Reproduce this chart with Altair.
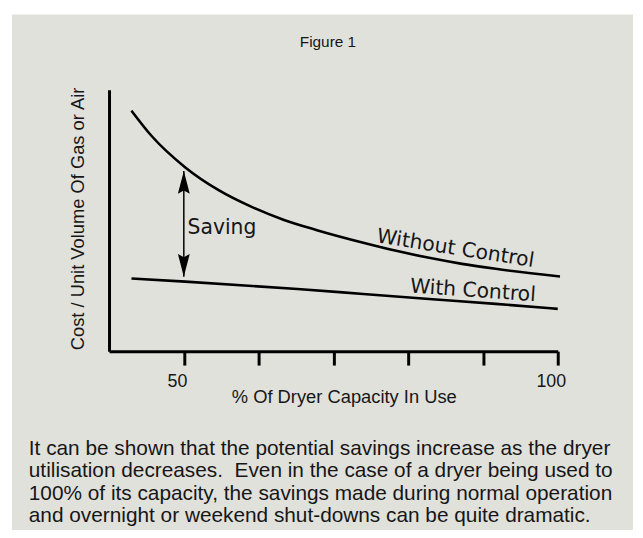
import altair as alt
import pandas as pd

# ---- data ----
without_x = [43.0, 45.7, 50.2, 54.6, 59.0, 63.4, 67.8, 74.0, 78.4, 82.8, 87.2, 91.7, 100.3]
without_y = [92.0, 82.3, 70.3, 61.7, 55.3, 50.2, 46.3, 41.5, 38.4, 35.7, 33.4, 31.5, 28.6]
with_x = [43.0, 50.2, 65.2, 74.0, 82.8, 91.7, 100.0]
with_y = [27.8, 26.6, 23.8, 21.9, 20.0, 18.1, 16.2]

x_domain = [40, 100]
y_domain = [0, 100]
tick_values = [50, 60, 70, 80, 90, 100]
labelled_ticks = [50, 100]

arrow_x = [50.0]
arrow_low = [28.5]
arrow_high = [68.9]

curve_labels = ["Without Control", "With Control"]
curve_label_x = [86.2, 88.6]
curve_label_y = [36.9, 20.8]
saving_label = ["Saving"]
saving_x = [50.5]
saving_y = [45.0]

fig_title = "Figure 1"
x_title = "% Of Dryer Capacity In Use"
y_title = "Cost / Unit Volume Of Gas or Air"
paragraph = [
    "It can be shown that the potential savings increase as the dryer",
    "utilisation decreases.\u00a0 Even in the case of a dryer being used to",
    "100% of its capacity, the savings made during normal operation",
    "and overnight or weekend shut-downs can be quite dramatic.",
]

# ---- tables ----
curves = pd.concat([
    pd.DataFrame({"x": without_x, "y": without_y, "series": "Without Control"}),
    pd.DataFrame({"x": with_x, "y": with_y, "series": "With Control"}),
])
shaft = pd.DataFrame({"x": arrow_x, "y": arrow_low, "y2": arrow_high})
head_top = pd.DataFrame({"x": arrow_x, "y": arrow_high})
head_bot = pd.DataFrame({"x": arrow_x, "y": arrow_low})
lab1 = pd.DataFrame({"x": curve_label_x[:1], "y": curve_label_y[:1], "label": curve_labels[:1]})
lab2 = pd.DataFrame({"x": curve_label_x[1:], "y": curve_label_y[1:], "label": curve_labels[1:]})
lab3 = pd.DataFrame({"x": saving_x, "y": saving_y, "label": saving_label})
one = pd.DataFrame({"k": [0]})

INK = "#161616"
SANS = "Liberation Sans"
GEO = "DejaVu Sans"

label_expr = "indexof([" + ",".join(str(v) for v in labelled_ticks) + "], datum.value) >= 0 ? datum.label : ''"

xs = alt.Scale(domain=x_domain, nice=False, zero=False)
ys = alt.Scale(domain=y_domain, nice=False, zero=False)

x_axis = alt.Axis(
    values=tick_values, labelExpr=label_expr, grid=False, zindex=1,
    domainColor="black", domainWidth=3, tickColor="black", tickWidth=3, tickSize=14,
    labelFont=SANS, labelFontSize=18, labelColor=INK, labelPadding=8, labelOffset=-7,
    labelFlush=False, labelOverlap=False,
    title=x_title, titleFont=SANS, titleFontSize=18.5, titleFontWeight="normal", titleColor=INK,
    titleX=237, titleY=52, titleAlign="center", titleBaseline="alphabetic",
)
y_axis = alt.Axis(
    ticks=False, labels=False, grid=False, zindex=1,
    domainColor="black", domainWidth=3,
    title=y_title, titleFont=SANS, titleFontSize=18.5, titleFontWeight="normal", titleColor=INK,
    titleAngle=270, titleX=-25.3, titleY=130, titleAlign="center", titleBaseline="alphabetic",
)

bg = alt.Chart(one).mark_rect(color="#e1e1dc").encode(
    x=alt.value(-98), x2=alt.value(529), y=alt.value(-76), y2=alt.value(450)
)

lines = alt.Chart(curves).mark_line(color="black", strokeWidth=2.6, interpolate="monotone").encode(
    x=alt.X("x:Q", scale=xs, axis=x_axis),
    y=alt.Y("y:Q", scale=ys, axis=y_axis),
    detail="series:N",
)

rule = alt.Chart(shaft).mark_rule(color="black", strokeWidth=1.5).encode(
    x="x:Q", y="y:Q", y2="y2:Q"
)

UP = "M0,-1L0.52,1L0,0.7L-0.52,1Z"
DOWN = "M0,1L0.52,-1L0,-0.7L-0.52,-1Z"
top = alt.Chart(head_top).mark_point(shape=UP, filled=True, size=529, color="black",
                                     opacity=1, strokeWidth=0, yOffset=11.5).encode(x="x:Q", y="y:Q")
bot = alt.Chart(head_bot).mark_point(shape=DOWN, filled=True, size=529, color="black",
                                     opacity=1, strokeWidth=0, yOffset=-11.5).encode(x="x:Q", y="y:Q")

t1 = alt.Chart(lab1).mark_text(font=GEO, fontSize=20.5, angle=9, align="center",
                               baseline="alphabetic", color=INK).encode(x="x:Q", y="y:Q", text="label:N")
t2 = alt.Chart(lab2).mark_text(font=GEO, fontSize=20.5, angle=4, align="center",
                               baseline="alphabetic", color=INK).encode(x="x:Q", y="y:Q", text="label:N")
t3 = alt.Chart(lab3).mark_text(font=GEO, fontSize=20.5, align="left",
                               baseline="alphabetic", color=INK).encode(x="x:Q", y="y:Q", text="label:N")

fig = alt.Chart(one).mark_text(text=fig_title, font=SANS, fontSize=15.5, align="center",
                               baseline="alphabetic", color=INK).encode(x=alt.value(221), y=alt.value(-43))

para = alt.Chart(one).mark_text(text=paragraph, font=SANS, fontSize=21, lineHeight=22.5, align="left",
                                baseline="alphabetic", color=INK).encode(x=alt.value(-81), y=alt.value(369))

chart = alt.layer(bg, lines, rule, top, bot, t1, t2, t3, fig, para).properties(
    width=453, height=264,
    autosize="none",
    padding={"left": 102, "top": 80, "right": 78, "bottom": 178},
    background="white",
).configure_view(stroke=None)

chart.save("out.html", embed_options={"renderer": "svg", "actions": False})
